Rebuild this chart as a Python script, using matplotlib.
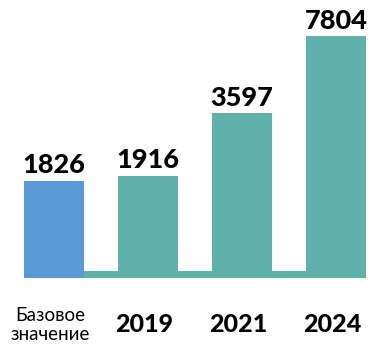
import matplotlib
matplotlib.use("Agg")
import matplotlib.pyplot as plt
import matplotlib.transforms as mtransforms
from matplotlib.patches import Rectangle

# Data
categories = ["Базовое\nзначение", "2019", "2021", "2024"]
values = [1826, 1916, 3597, 7804]
bar_colors = ["#5B9BD5", "#60B1AA", "#60B1AA", "#60B1AA"]
label_weights = ["normal", "black", "black", "black"]
label_sizes = [13.5, 18, 18, 18]

plt.rcParams["font.family"] = ["Lato", "DejaVu Sans"]

W, H, DPI = 371, 344, 100
fig = plt.figure(figsize=(W / DPI, H / DPI), dpi=DPI)
axes_h_px = 277.5
ax = fig.add_axes([0, 1 - axes_h_px / H, 1, axes_h_px / H])

ax.set_yscale("log")
ymin, ymax = 689, 11224
ax.set_ylim(ymin, ymax)
ax.set_xlim(-0.574, 3.372)

x = list(range(len(categories)))
width = 0.64
bars = ax.bar(x, [v - ymin for v in values], bottom=ymin, width=width,
              color=bar_colors, zorder=3)

# thin floor band running under all columns
trans = mtransforms.blended_transform_factory(ax.transData, ax.transAxes)
ax.add_patch(Rectangle((x[0] - width / 2, 0), (x[-1] - x[0]) + width,
                       7 / axes_h_px, transform=trans, color="#60B1AA",
                       zorder=2, lw=0))

# value labels
for xi, v in zip(x, values):
    ax.annotate(f"{v}", (xi, v), xytext=(0, 2.5), textcoords="offset points",
                ha="center", va="bottom", fontsize=19.5, fontweight="black",
                color="black", zorder=4)

# category labels under the chart
for xi, cat, fw, fs in zip(x, categories, label_weights, label_sizes):
    ax.text(xi - 0.04, (axes_h_px - 325) / axes_h_px, cat, transform=trans,
            ha="center", va="center", fontsize=fs, fontweight=fw,
            color="black", linespacing=1.1)

ax.axis("off")
fig.savefig("out.png", dpi=DPI)
